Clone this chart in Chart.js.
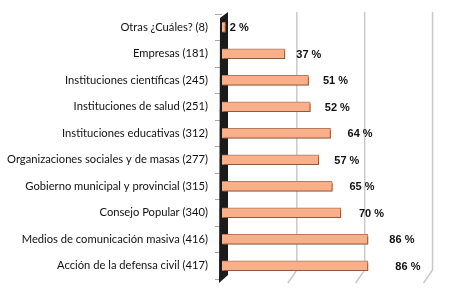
<!DOCTYPE html>
<html>
<head>
<meta charset="utf-8">
<script src="https://cdn.jsdelivr.net/npm/chart.js@4"></script>
<style>
  html, body { margin: 0; padding: 0; background: #fff; }
  #wrap { width: 450px; height: 293px; }
</style>
</head>
<body>
<div id="wrap"><canvas id="chart" width="450" height="293"></canvas></div>
<script>
// Categories, top to bottom
const categories = [
    "Otras ¿Cuáles? (8)",
    "Empresas (181)",
    "Instituciones científicas (245)",
    "Instituciones de salud (251)",
    "Instituciones educativas (312)",
    "Organizaciones sociales y de masas (277)",
    "Gobierno municipal y provincial (315)",
    "Consejo Popular (340)",
    "Medios de comunicación masiva (416)",
    "Acción de la defensa civil (417)"
];
const percents = [2, 37, 51, 52, 64, 57, 65, 70, 86, 86];
const gridValues = [40, 80, 120];

// Wall, slanted grid lines and the small left ticks (3D look)
const wallPlugin = {
    id: "wall3d",
    beforeDatasetsDraw(chart) {
        const { ctx, chartArea } = chart;
        const x = chart.scales.x;
        const top = chartArea.top, bottom = chartArea.bottom;
        ctx.save();
        ctx.strokeStyle = "#c9c9c9";
        ctx.lineWidth = 1.5;
        gridValues.forEach(v => {
            const px = x.getPixelForValue(v);
            ctx.beginPath();
            ctx.moveTo(px + 7, top - 2);
            ctx.lineTo(px + 7, bottom - 9);
            ctx.lineTo(px - 2, bottom + 4);
            ctx.stroke();
        });
        const x0 = x.getPixelForValue(0);
        ctx.fillStyle = "#1b1b1b";
        ctx.beginPath();
        ctx.moveTo(x0 - 2, top + 4);
        ctx.lineTo(x0 + 6, top - 2);
        ctx.lineTo(x0 + 6, bottom - 4);
        ctx.lineTo(x0 - 3, bottom + 4);
        ctx.closePath();
        ctx.fill();
        ctx.restore();
    },
    beforeDatasetDraw(chart) {
        const ctx = chart.ctx;
        ctx.save();
        ctx.shadowColor = "rgba(140, 85, 55, 0.9)";
        ctx.shadowOffsetX = 2;
        ctx.shadowOffsetY = 2;
        ctx.shadowBlur = 0;
    },
    afterDatasetDraw(chart) {
        chart.ctx.restore();
    },
    afterDatasetsDraw(chart) {
        const { ctx } = chart;
        const meta = chart.getDatasetMeta(0);
        const base = chart.scales.x.getPixelForValue(0);
        ctx.save();
        ctx.font = "bold 11px 'Liberation Sans', Arial, sans-serif";
        ctx.fillStyle = "#111";
        ctx.textBaseline = "middle";
        meta.data.forEach((bar, i) => {
            const w = bar.x - base;
            // labels drift right a little lower down, like the 3D original
            ctx.fillText(percents[i] + " %", bar.x + 4 + w * 0.12 + (i === meta.data.length - 1 ? 6 : 0), bar.y + 1);
        });
        ctx.restore();
    }
};

new Chart(document.getElementById("chart"), {
    type: "bar",
    data: {
        labels: categories,
        datasets: [{
            data: percents,
            backgroundColor: "#f9b08a",
            borderColor: "#b77a5c",
            borderWidth: 1,
            barThickness: 10
        }]
    },
    plugins: [wallPlugin],
    options: {
        indexAxis: "y",
        responsive: false,
        animation: false,
        layout: { padding: { left: 0, right: 16, top: 14, bottom: 14 } },
        plugins: {
            legend: { display: false },
            tooltip: { enabled: false }
        },
        scales: {
            x: {
                display: false,
                min: 0,
                max: 125
            },
            y: {
                afterFit: (scale) => { scale.width = 222; },
                border: { display: false },
                grid: {
                    drawOnChartArea: false,
                    tickLength: 7,
                    color: "#a8a8a8"
                },
                ticks: {
                    padding: 7,
                    color: "#111",
                    font: { family: "Lato", size: 11.2 }
                }
            }
        }
    }
});
</script>
</body>
</html>
